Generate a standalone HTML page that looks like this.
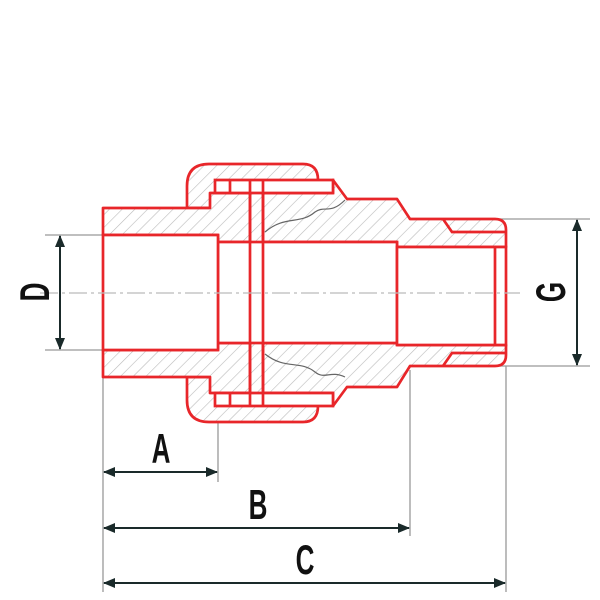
<!DOCTYPE html>
<html><head><style>html,body{margin:0;padding:0;background:#fff;}svg{display:block}</style></head>
<body>
<svg width="600" height="600" viewBox="0 0 600 600" xmlns="http://www.w3.org/2000/svg">
<defs>
<pattern id="h" width="9" height="9" patternUnits="userSpaceOnUse" patternTransform="rotate(45)">
<rect width="9" height="9" fill="#fff"/><line x1="0" y1="0" x2="0" y2="9" stroke="#bbb" stroke-width="1.2"/>
</pattern>
<marker id="a" markerWidth="12" markerHeight="10" refX="11" refY="5" orient="auto-start-reverse" markerUnits="userSpaceOnUse">
<path d="M0,0 L12,5 L0,10 Z" fill="#1a2a2a"/></marker>
</defs>
<g stroke="#999" stroke-width="1.3" fill="none">
<line x1="103" y1="377" x2="103" y2="592"/>
<line x1="218" y1="350" x2="218" y2="482"/>
<line x1="410" y1="370" x2="410" y2="536"/>
<line x1="506" y1="366" x2="506" y2="592"/>
<line x1="45" y1="235" x2="103" y2="235"/>
<line x1="45" y1="350" x2="103" y2="350"/>
<line x1="500" y1="219" x2="590" y2="219"/>
<line x1="500" y1="366" x2="590" y2="366"/>
</g>
<g fill="url(#h)" stroke="#e8262a" stroke-width="2.7" stroke-linejoin="round">
<path d="M187,208 L187,186 Q187,164 209,164 L303,164 Q318,164 318,180 L318,406 Q318,422 303,422 L209,422 Q187,422 187,400 L187,377 L210,377 L210,208 Z"/>
<path d="M103,208 L210,208 L210,193 L250,193 L250,393 L210,393 L210,377 L103,377 L103,350 L218,350 L218,343 L250,343 L250,242 L218,242 L218,235 L103,235 Z"/>
<path d="M263,242 L263,193 L333,193 L333,180 L347,199 L397,199 L410,219 L495,219 Q506,219 506,230 L506,247 L397,247 L397,242 Z"/>
<path d="M263,343 L263,393 L333,393 L333,406 L347,387 L397,387 L410,366 L495,366 Q506,366 506,355 L506,345 L397,345 L397,343 Z"/>
</g>
<g fill="#fff" stroke="#e8262a" stroke-width="2.7">
<rect x="218" y="242" width="179" height="101"/>
<rect x="103" y="235" width="115" height="115"/>
<rect x="397" y="247" width="109" height="98"/>
<path d="M215,180 L333,180 L333,193 L215,193 Z"/>
<path d="M215,406 L333,406 L333,393 L215,393 Z"/>
</g>
<g stroke="#e8262a" stroke-width="2.7" fill="none">
<line x1="250" y1="180" x2="250" y2="406"/>
<line x1="263" y1="180" x2="263" y2="406"/>
<line x1="230" y1="180" x2="230" y2="193"/>
<line x1="230" y1="393" x2="230" y2="406"/>
<line x1="495" y1="247" x2="495" y2="345"/>
<path d="M443,219 L452,232 L506,232"/>
<path d="M443,366 L452,353 L506,353"/>
</g>
<g stroke="#666" stroke-width="1.2" fill="none">
<path d="M265,232 C285,215 300,225 315,212 C325,205 330,215 345,200"/>
<path d="M265,354 C285,370 300,360 315,372 C325,380 330,370 345,377"/>
</g>
<line x1="40" y1="293" x2="520" y2="293" stroke="#bbb" stroke-width="1.3" stroke-dasharray="18,4,3,4"/>
<g stroke="#1a2a2a" stroke-width="2" marker-start="url(#a)" marker-end="url(#a)">
<line x1="104" y1="472" x2="217" y2="472"/>
<line x1="104" y1="528" x2="409" y2="528"/>
<line x1="104" y1="583" x2="505" y2="583"/>
<line x1="60" y1="236" x2="60" y2="349"/>
<line x1="577" y1="220" x2="577" y2="365"/>
</g>
<g font-family="Liberation Sans, sans-serif" font-size="42" font-weight="bold" fill="#111" text-anchor="middle">
<text transform="translate(161,463) scale(0.62,1)">A</text>
<text transform="translate(258,519) scale(0.62,1)">B</text>
<text transform="translate(305,574) scale(0.62,1)">C</text>
<text transform="translate(49,292) rotate(-90) scale(0.62,1)">D</text>
<text transform="translate(565,292) rotate(-90) scale(0.62,1)">G</text>
</g>
</svg>
</body></html>
